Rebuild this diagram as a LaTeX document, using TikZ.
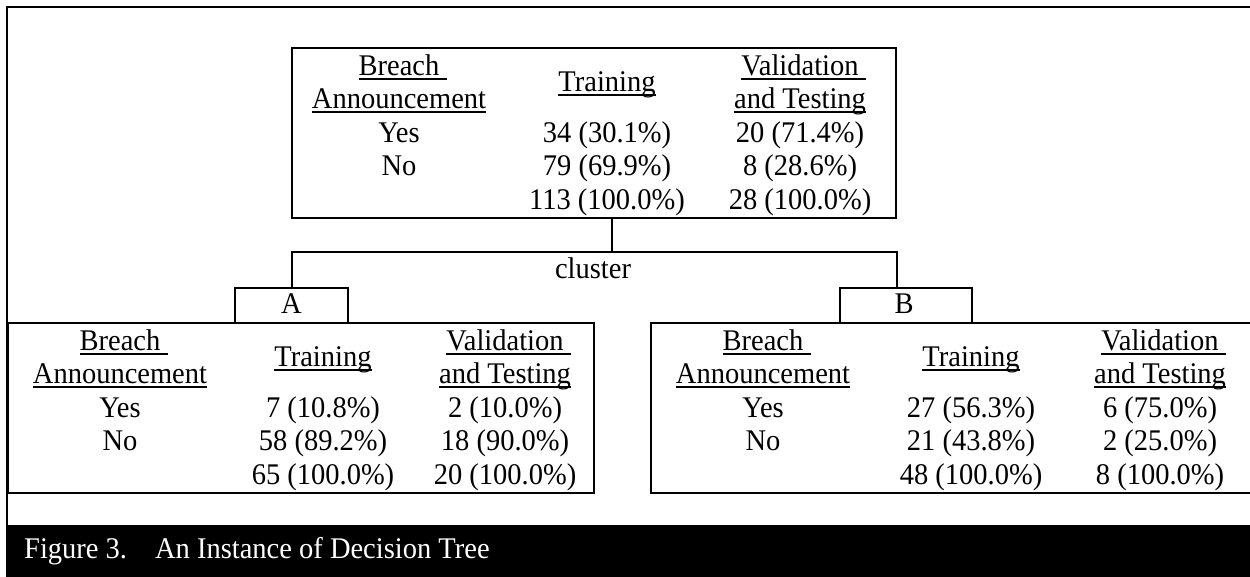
\documentclass[tikz,border=0pt]{standalone}
\usepackage{fontspec}
\setmainfont{Liberation Serif}
\newfontfamily\figfont[FakeStretch=0.95]{Liberation Serif}
\newcommand\ulx[1]{\setbox0=\hbox{#1}\rlap{\rule[-0.175em]{\wd0}{0.065em}}\box0}
\newcommand\ulxs[1]{\setbox0=\hbox{#1}\rlap{\rule[-0.175em]{\dimexpr\wd0+0.25em\relax}{0.065em}}\box0}
% prefix, c1, c2, c3, top
\newcommand\dhead[5]{%
  \node[cell] (#1-breach) at (#2,#5+28) {\ulxs{Breach}};
  \node[cell] (#1-ann)    at (#2,#5+61) {\ulx{Announcement}};
  \node[cell] (#1-train)  at (#3,#5+44) {\ulx{Training}};
  \node[cell] (#1-valid)  at (#4,#5+28) {\ulxs{Validation}};
  \node[cell] (#1-test)   at (#4,#5+61) {\ulx{and Testing}};
  \node[cell] (#1-yes)    at (#2,#5+95) {Yes};
  \node[cell] (#1-no)     at (#2,#5+128) {No};
}
% prefix, c2, c3, top, yes-train, yes-val, no-train, no-val
\newcommand\dbody[8]{%
  \node[cell] (#1-yt) at (#2,#4+95) {#5};
  \node[cell] (#1-yv) at (#3,#4+95) {#6};
  \node[cell] (#1-nt) at (#2,#4+128) {#7};
  \node[cell] (#1-nv) at (#3,#4+128) {#8};
}
% prefix, c2, c3, top, total-train, total-val
\newcommand\dtotal[6]{%
  \node[cell] (#1-tt) at (#2,#4+162) {#5};
  \node[cell] (#1-tv) at (#3,#4+162) {#6};
}
\begin{document}
\begin{tikzpicture}[x=1pt,y=-1pt,
  cell/.style={anchor=base,inner sep=0pt,font=\figfont\fontsize{30}{34}\selectfont},
  tbox/.style={draw,line width=2pt,anchor=north west,inner sep=0pt},
  conn/.style={line width=2pt},
  lab/.style={anchor=base,inner sep=0pt,font=\figfont\fontsize{30}{34}\selectfont}]
\clip (0,0) rectangle (1250,576);
\fill[white] (0,0) rectangle (1250,576);
% outer frame and caption band
\draw[line width=2pt] (6.5,7) rectangle (1270,560);
\fill[black] (5.5,525) rectangle (1270,590);
\node[lab,anchor=base west,text=white] (cap) at (24,558) {Figure 3.\hspace*{28pt}An Instance of Decision Tree};
% boxes
\node[tbox,minimum width=604pt,minimum height=170pt] (root) at (291,47) {};
\node[tbox,minimum width=113pt,minimum height=35pt] (A) at (234,287) {};
\node[tbox,minimum width=132pt,minimum height=35pt] (B) at (839,287) {};
\node[tbox,minimum width=586pt,minimum height=170pt] (left) at (7,322) {};
\node[tbox,minimum width=640pt,minimum height=170pt] (right) at (650,322) {};
\node[lab] (Alab) at (A.center |- 0,313) {A};
\node[lab] (Blab) at (904,313) {B};
% connectors
\coordinate (j) at (612,252);
\draw[conn] (j |- root.south) -- (j);
\draw[conn] (A.north) |- (j) -| (root.east |- B.north);
\node[lab] (cl) at (593,278) {cluster};
% root table
\dhead{r}{399}{607}{800}{47}
\dbody{r}{607}{800}{47}{34 (30.1\%)}{20 (71.4\%)}{79 (69.9\%)}{8 (28.6\%)}
\dtotal{r}{607}{800}{47}{113 (100.0\%)}{28 (100.0\%)}
% left table
\dhead{a}{120}{323}{505}{322}
\dbody{a}{323}{505}{322}{7 (10.8\%)}{2 (10.0\%)}{58 (89.2\%)}{18 (90.0\%)}
\dtotal{a}{323}{505}{322}{65 (100.0\%)}{20 (100.0\%)}
% right table
\dhead{b}{763}{971}{1160}{322}
\dbody{b}{971}{1160}{322}{27 (56.3\%)}{6 (75.0\%)}{21 (43.8\%)}{2 (25.0\%)}
\dtotal{b}{971}{1160}{322}{48 (100.0\%)}{8 (100.0\%)}
\end{tikzpicture}
\end{document}
